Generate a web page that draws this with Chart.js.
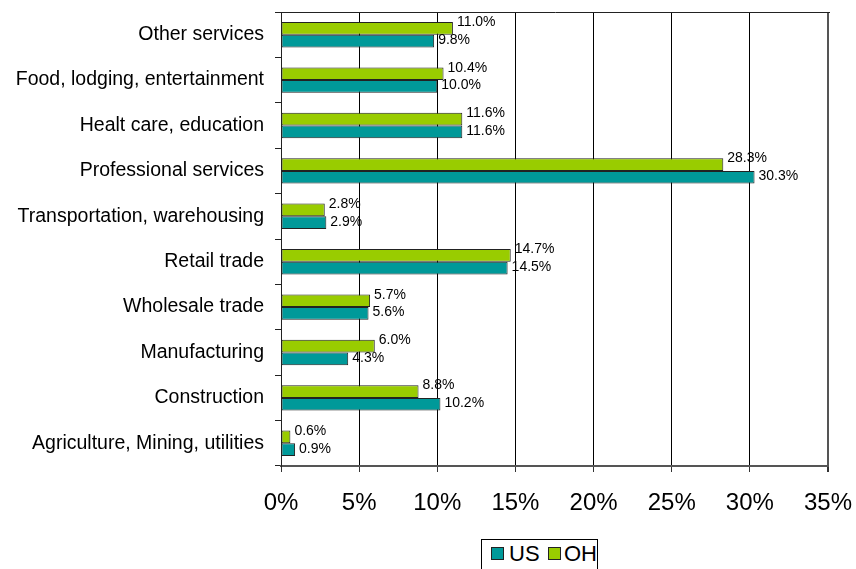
<!DOCTYPE html>
<html>
<head>
    <meta charset="utf-8" />
    <title>Employment by sector, US vs OH</title>
    <script src="https://cdn.jsdelivr.net/npm/chart.js"></script>
    <style>
        html, body { margin: 0; padding: 0; background: #fff; }
        #wrap { position: relative; width: 856px; height: 569px; overflow: hidden; }
        #legend {
            position: absolute; left: 481px; top: 539px; width: 115px; height: 40px;
            border: 1px solid #000; background: #fff;
            font-family: "Liberation Sans", Arial, sans-serif; font-size: 22px; color: #000;
        }
        #legend span.box {
            position: absolute; top: 7px; width: 11px; height: 11px; border: 1px solid #222;
        }
        #legend span.txt { position: absolute; top: 0px; line-height: 28px; }
    </style>
</head>
<body>
    <div id="wrap">
        <canvas id="sectorChart" width="856" height="569"></canvas>
        <div id="legend">
            <span class="box" style="left:9px; background:#009999"></span>
            <span class="txt" style="left:27px">US</span>
            <span class="box" style="left:66px; background:#99CC00"></span>
            <span class="txt" style="left:82px">OH</span>
        </div>
    </div>

    <script>
        // sectors, top to bottom
        const sectors = [
            'Other services',
            'Food, lodging, entertainment',
            'Healt care, education',
            'Professional services',
            'Transportation, warehousing',
            'Retail trade',
            'Wholesale trade',
            'Manufacturing',
            'Construction',
            'Agriculture, Mining, utilities'
        ];
        const ohShare = [11.0, 10.4, 11.6, 28.3, 2.8, 14.7, 5.7, 6.0, 8.8, 0.6];
        const usShare = [9.8, 10.0, 11.6, 30.3, 2.9, 14.5, 5.6, 4.3, 10.2, 0.9];
        const xTicks = [0, 5, 10, 15, 20, 25, 30, 35];

        const FONT = '"Liberation Sans", Arial, sans-serif';

        // value labels next to the bar ends
        const barLabels = {
            id: 'barLabels',
            afterDatasetsDraw(chart) {
                const ctx = chart.ctx;
                ctx.save();
                ctx.font = '14px ' + FONT;
                ctx.fillStyle = '#000';
                ctx.textBaseline = 'middle';
                ctx.textAlign = 'left';
                chart.data.datasets.forEach((ds, i) => {
                    const meta = chart.getDatasetMeta(i);
                    const dy = i === 0 ? -6 : -1;
                    meta.data.forEach((bar, j) => {
                        ctx.fillText(ds.data[j].toFixed(1) + '%', bar.x + 4, bar.y + dy);
                    });
                });
                ctx.restore();
            }
        };

        // line along the top of the plot area
        const topLine = {
            id: 'topLine',
            beforeDatasetsDraw(chart) {
                const a = chart.chartArea, ctx = chart.ctx;
                ctx.save();
                ctx.strokeStyle = '#222';
                ctx.lineWidth = 1;
                ctx.beginPath();
                ctx.moveTo(a.left, a.top + 0.5);
                ctx.lineTo(a.right + 2, a.top + 0.5);
                ctx.stroke();
                ctx.restore();
            }
        };

        const ctx = document.getElementById('sectorChart').getContext('2d');
        new Chart(ctx, {
            type: 'bar',
            data: {
                labels: sectors,
                datasets: [
                    {
                        label: 'OH',
                        data: ohShare,
                        backgroundColor: '#99CC00',
                        borderColor: '#222',
                        borderWidth: 1,
                        borderSkipped: false
                    },
                    {
                        label: 'US',
                        data: usShare,
                        backgroundColor: '#009999',
                        borderColor: '#222',
                        borderWidth: 1,
                        borderSkipped: false
                    }
                ]
            },
            options: {
                indexAxis: 'y',
                responsive: false,
                animation: false,
                layout: { padding: { top: 12, right: 28, left: 0, bottom: 0 } },
                datasets: { bar: { categoryPercentage: 0.56, barPercentage: 1.0 } },
                plugins: {
                    legend: { display: false },
                    tooltip: { enabled: false }
                },
                scales: {
                    x: {
                        min: 0,
                        max: 35,
                        afterBuildTicks(scale) {
                            scale.ticks = xTicks.map(v => ({ value: v }));
                        },
                        afterFit(scale) {
                            scale.height = 103;
                            scale.paddingLeft = 0;
                            scale.paddingRight = 0;
                        },
                        border: { display: true, color: '#555', width: 2 },
                        grid: {
                            color: c => c.index === xTicks.length - 1 ? '#555' : '#000',
                            lineWidth: c => c.index === xTicks.length - 1 ? 2 : 1,
                            tickColor: '#333',
                            tickLength: 6
                        },
                        ticks: {
                            color: '#000',
                            padding: 17,
                            maxRotation: 0,
                            font: { family: FONT, size: 24 },
                            callback: v => v + '%'
                        }
                    },
                    y: {
                        afterFit(scale) {
                            scale.width = 281;
                            scale.paddingTop = 0;
                            scale.paddingBottom = 0;
                        },
                        border: { display: true, color: '#222', width: 1 },
                        grid: {
                            offset: true,
                            drawOnChartArea: false,
                            drawTicks: true,
                            tickLength: 6,
                            color: '#222'
                        },
                        ticks: {
                            color: '#000',
                            padding: 11,
                            font: { family: FONT, size: 19.5 }
                        }
                    }
                }
            },
            plugins: [barLabels, topLine]
        });
    </script>
</body>
</html>
